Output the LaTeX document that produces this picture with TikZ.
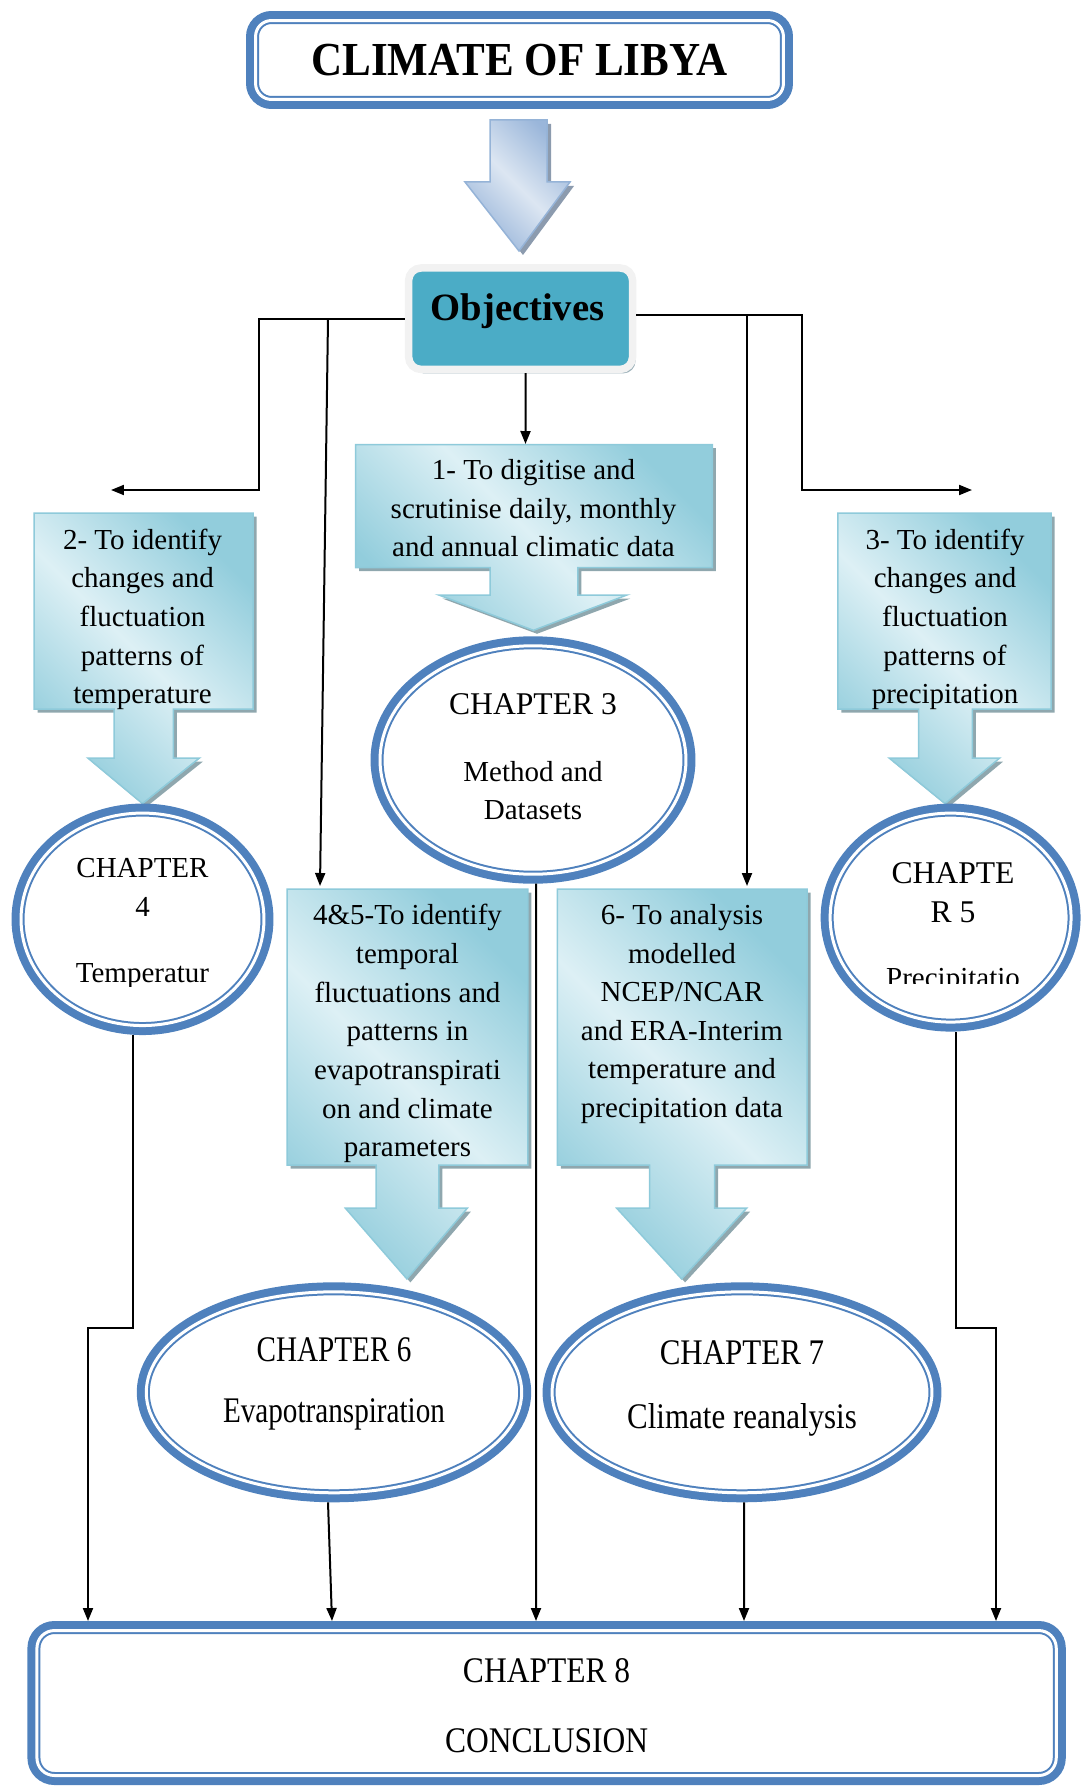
\documentclass[tikz,border=0pt]{standalone}
\usepackage{fontspec}
\setmainfont{Liberation Serif}
\usepackage{graphicx}
\usetikzlibrary{shapes.geometric,shadows,arrows.meta}

\definecolor{chblue}{HTML}{4F81BD}
\definecolor{aimlt}{HTML}{DDF0F5}
\definecolor{aimdk}{HTML}{92CDDC}
\definecolor{aimline}{HTML}{8ECADA}
\definecolor{aimshade}{HTML}{8FA7AE}
\definecolor{objteal}{HTML}{4BACC6}
\definecolor{objrim}{HTML}{F2F2F2}
\definecolor{objshade}{HTML}{9DB2BA}
\definecolor{arrlt}{HTML}{DCE6F2}
\definecolor{arrdk}{HTML}{9AB6DA}
\definecolor{arrline}{HTML}{95B3D7}
\definecolor{arrshade}{HTML}{8C9BAE}

\newcommand{\narrowtxt}[2]{\scalebox{#1}[1]{#2}}

\begin{document}
\begin{tikzpicture}[
        x=0.02cm, y=-0.02cm,
        dblline/.style={
            preaction={draw=chblue, line width=0.38cm},
            fill=white, draw=chblue, double=white,
            line width=0.04cm, double distance=0.06cm, outer sep=0.19cm
        },
        chapter/.style={dblline, ellipse, inner sep=0pt},
        banner/.style={dblline, rectangle, rounded corners=0.32cm, inner sep=0pt},
        aim/.style={
            top color=aimdk, bottom color=aimdk, middle color=aimlt,
            shading angle=-45, draw=aimline, line width=0.03cm,
            drop shadow={shadow xshift=0.07cm, shadow yshift=-0.07cm, fill=aimshade, opacity=1}
        },
        bigarrow/.style={
            top color=arrdk, bottom color=arrdk, middle color=arrlt,
            shading angle=-45, draw=arrline, line width=0.03cm,
            drop shadow={shadow xshift=0.08cm, shadow yshift=-0.08cm, fill=arrshade, opacity=1}
        },
        txt/.style={align=center, inner sep=0pt, font=\fontsize{16.5}{22}\selectfont},
        big/.style={txt, font=\fontsize{22}{26}\selectfont\bfseries},
        conn/.style={-{Triangle[width=0.2cm,length=0.26cm]}, line width=0.04cm}
    ]
    \useasboundingbox (0,0) rectangle (1084,1787);
    % Title
        \node[banner, big, font=\fontsize{24.5}{28}\selectfont\bfseries, minimum width=10.56cm, minimum height=1.58cm] (title) at (519.5,60) {\scalebox{1}[1.1]{CLIMATE OF LIBYA}};
        \path[bigarrow] (490,120) -- (547,120) -- (547,182) -- (570,182) -- (519,251) -- (465,182) -- (490,182) -- cycle;
        \node[draw=objrim, line width=0.15cm, fill=objteal, rounded corners=0.25cm,
            minimum width=4.48cm, minimum height=2.03cm,
            drop shadow={shadow xshift=0.06cm, shadow yshift=-0.08cm, fill=objshade, opacity=1}] (obj) at (520.6,318.7) {};
        \node[big] (objtxt) at (517.5,311) {Objectives};
    % Objectives
        \path[aim] (355.6,444.5) -- (712.4,444.5) -- (712.4,567.7) -- (577.9,567.7) -- (577.9,595) -- (626.9,595) -- (533.5,630.3) -- (438.8,595) -- (490.1,595) -- (490.1,567.7) -- (355.6,567.7) -- cycle;
        \node[txt] (aim1) at (533.5,508.3) {1- To digitise and\\scrutinise daily, monthly\\and annual climatic data};
        \path[aim] (34.2,513) -- (253,513) -- (253,709) -- (173.3,709) -- (173.3,758) -- (199.5,758) -- (142.5,803.6) -- (87.8,758) -- (114,758) -- (114,709) -- (34.2,709) -- cycle;
        \begin{scope}
            \clip (34.2,513) rectangle (253,709);
            \node[txt] (aim2) at (142.5,619.5) {2- To identify\\changes and\\fluctuation\\patterns of\\temperature};
        \end{scope}
        \path[aim] (837.8,513) -- (1051,513) -- (1051,709) -- (972.3,709) -- (972.3,758) -- (999.7,758) -- (945,803.6) -- (889.1,758) -- (918.7,758) -- (918.7,709) -- (837.8,709) -- cycle;
        \begin{scope}
            \clip (837.8,513) rectangle (1051,709);
            \node[txt] (aim3) at (945,619.5) {3- To identify\\changes and\\fluctuation\\patterns of\\precipitation};
        \end{scope}
        \path[aim] (287.2,889) -- (527.8,889) -- (527.8,1165) -- (438.8,1165) -- (438.8,1208.2) -- (467.3,1208.2) -- (406.9,1278.9) -- (345.4,1208.2) -- (376.2,1208.2) -- (376.2,1165) -- (287.2,1165) -- cycle;
        \begin{scope}
            \clip (287.2,889) rectangle (527.8,1165);
            \node[txt] (aim45) at (407.5,1033.6) {4\&5-To identify\\temporal\\fluctuations and\\patterns in\\evapotranspirati\\on and climate\\parameters};
        \end{scope}
        \path[aim] (557.4,889) -- (807,889) -- (807,1165) -- (714.7,1165) -- (714.7,1208.2) -- (746.6,1208.2) -- (681.6,1278.9) -- (616.7,1208.2) -- (649.7,1208.2) -- (649.7,1165) -- (557.4,1165) -- cycle;
        \node[txt] (aim6) at (682,1014) {6- To analysis\\modelled\\NCEP/NCAR\\and ERA-Interim\\temperature and\\precipitation data};
    % Chapters
        \node[chapter, minimum width=6.12cm, minimum height=4.57cm] (ch3) at (533,760) {};
        \node[txt] (ch3txt) at (533,756.8) {{\fontsize{18}{22}\selectfont CHAPTER 3}\\[16pt]Method and\\Datasets};
        \node[chapter, minimum width=4.86cm, minimum height=4.25cm] (ch4) at (142.5,919.3) {};
        \begin{scope}
            \clip (0,0) rectangle (1084,986);
            \node[txt] (ch4txt) at (142.5,923.5) {CHAPTER\\4\\[15.4pt]Temperatur};
        \end{scope}
        \node[chapter, minimum width=4.82cm, minimum height=4.18cm] (ch5) at (950.6,917.6) {};
        \begin{scope}
            \clip (0,0) rectangle (1084,983);
            \node[txt, font=\fontsize{18}{22}\selectfont] (ch5txt) at (953,928.2) {CHAPTE\\R 5\\[15.4pt]{\fontsize{16.5}{22}\selectfont Precipitatio}};
        \end{scope}
        \node[chapter, minimum width=7.51cm, minimum height=4.02cm] (ch6) at (334,1392.3) {};
        \node[txt, font=\fontsize{20.5}{24}\selectfont] (ch6txt) at (334,1383.7) {\narrowtxt{0.81}{CHAPTER 6}\\[10.9pt]\narrowtxt{0.81}{Evapotranspiration}};
        \node[chapter, minimum width=7.6cm, minimum height=4.02cm] (ch7) at (742,1392.3) {};
        \node[txt, font=\fontsize{20.5}{24}\selectfont] (ch7txt) at (742,1388.4) {\narrowtxt{0.86}{CHAPTER 7}\\[12.9pt]\narrowtxt{0.86}{Climate reanalysis}};
        \node[banner, rounded corners=0.35cm, minimum width=20.39cm, minimum height=2.9cm] (ch8) at (546.6,1703) {};
        \node[txt, font=\fontsize{20.5}{24}\selectfont] (ch8txt) at (546.6,1706) {\narrowtxt{0.875}{CHAPTER 8}\\[15.7pt]\narrowtxt{0.875}{CONCLUSION}};
    % Connectors
        \coordinate (lt) at (111,490);
        \coordinate (rt) at (972,490);
        \coordinate (lb) at (328,319);
        \coordinate (rb) at (747,315);
        \coordinate (in1) at (525.5,444);
        \coordinate (in45) at (320,886);
        \coordinate (in6) at (747,886);
        \draw[conn] (obj.west) -- ++(-146,0) |- (lt);
        \draw[conn] ([yshift=0.08cm]obj.east) -- ++(166,0) |- (rt);
        \draw[conn] ([xshift=0.1cm]obj.south) -- (in1);
        \draw[conn] (lb) -- (in45);
        \draw[conn] (rb) -- (in6);
        \foreach \n/\x in {a/88,b/332,c/536,d/744,e/996}{
            \coordinate (in8\n) at (\x,1621);
        }
        \draw[conn] ([xshift=-0.2cm]ch4.south) -- ++(0,293) -| (in8a);
        \draw[conn] ([xshift=-0.12cm]ch6.south) -- (in8b);
        \draw[conn] ([xshift=0.06cm]ch3.south) -- (in8c);
        \draw[conn] ([xshift=0.04cm]ch7.south) -- (in8d);
        \draw[conn] ([xshift=0.1cm]ch5.south) -- ++(0,296) -| (in8e);
\end{tikzpicture}
\end{document}
